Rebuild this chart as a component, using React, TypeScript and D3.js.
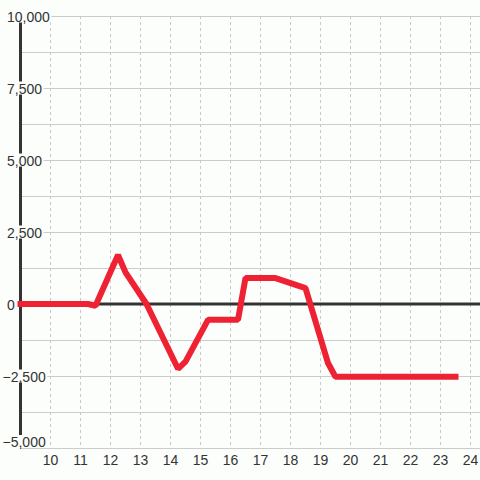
import React, { useEffect, useRef } from "react";
import * as d3 from "d3";

const xValues = [9, 10, 11, 11.25, 11.5, 12.25, 12.5, 13.2, 14.25, 14.5, 15.25, 16.25, 16.5, 17.5, 18.5, 19.25, 19.5, 23.5];
const yValues = [0, 0, 0, 0, -60, 1700, 1100, 0, -2250, -2000, -550, -550, 900, 900, 550, -2050, -2530, -2530];
const xTicks = [10, 11, 12, 13, 14, 15, 16, 17, 18, 19, 20, 21, 22, 23, 24];
const yTicks = [-5000, -2500, 0, 2500, 5000, 7500, 10000];
const yGrid = [-5000, -3750, -2500, -1250, 0, 1250, 2500, 3750, 5000, 6250, 7500, 8750, 10000];

const W = 480;
const H = 480;
const BG = "#fcfefc";

export default function App() {
  const ref = useRef<SVGSVGElement | null>(null);

  useEffect(() => {
    const svg = d3.select(ref.current);
    svg.selectAll("*").remove();

    const x = d3.scaleLinear().domain([9, 24]).range([20.5, 470.5]);
    const y = d3.scaleLinear().domain([-5000, 10000]).range([448, 16]);
    const fmt = d3.format(",");

    svg.append("rect").attr("width", W).attr("height", H).attr("fill", BG);

    // horizontal grid
    svg.append("g").selectAll("line").data(yGrid).join("line")
      .attr("x1", 20).attr("x2", W)
      .attr("y1", (d) => Math.round(y(d)) + 0.5).attr("y2", (d) => Math.round(y(d)) + 0.5)
      .attr("stroke", "#cccccc").attr("stroke-width", 1.2);

    // vertical dashed grid
    svg.append("g").selectAll("line").data(xTicks).join("line")
      .attr("x1", (d) => x(d)).attr("x2", (d) => x(d))
      .attr("y1", y(10000)).attr("y2", y(-5000))
      .attr("stroke", "#c8c8c8").attr("stroke-width", 1)
      .attr("stroke-dasharray", "3,3");

    // y axis line
    svg.append("line")
      .attr("x1", x(9)).attr("x2", x(9))
      .attr("y1", y(10000)).attr("y2", y(-5000))
      .attr("stroke", "#333333").attr("stroke-width", 3);

    // zero line
    svg.append("line")
      .attr("x1", x(9)).attr("x2", W)
      .attr("y1", y(0)).attr("y2", y(0))
      .attr("stroke", "#333333").attr("stroke-width", 3);

    // data line
    const pts = xValues.map((v, i) => [v, yValues[i]] as [number, number]);
    const line = d3.line<[number, number]>().x((d) => x(d[0])).y((d) => y(d[1]));
    svg.append("path")
      .attr("d", line(pts) || "")
      .attr("fill", "none")
      .attr("stroke", "#ee2233")
      .attr("stroke-width", 6)
      .attr("stroke-linejoin", "bevel")
      .attr("stroke-linecap", "square");

    // y labels with backgrounds
    const gy = svg.append("g");
    yTicks.forEach((t) => {
      const cy = t === -5000 ? y(t) - 6.5 : y(t);
      const g = gy.append("g");
      const bg = g.append("rect").attr("fill", BG);
      const txt = g.append("text")
        .attr("x", t < 0 ? 2.5 : 7)
        .attr("y", cy + 5.5)
        .attr("font-family", "'Liberation Sans', Arial, sans-serif")
        .attr("font-size", 14)
        .attr("fill", "#333333")
        .text(fmt(t));
      const node = txt.node() as SVGTextElement;
      const len = node.getComputedTextLength();
      const x0 = t < 0 ? 2.5 : 7;
      bg.attr("x", 0).attr("y", cy - 6.5).attr("width", x0 + len + 1.5).attr("height", 13);
    });

    // x labels
    svg.append("g").selectAll("text").data(xTicks).join("text")
      .attr("x", (d) => x(d))
      .attr("y", 465)
      .attr("text-anchor", "middle")
      .attr("font-family", "'Liberation Sans', Arial, sans-serif")
      .attr("font-size", 14)
      .attr("fill", "#333333")
      .text((d) => String(d));
  }, []);

  return (
    <div style={{ position: "fixed", left: 0, top: 0 }}>
      <svg ref={ref} width={W} height={H} style={{ display: "block" }} />
    </div>
  );
}
